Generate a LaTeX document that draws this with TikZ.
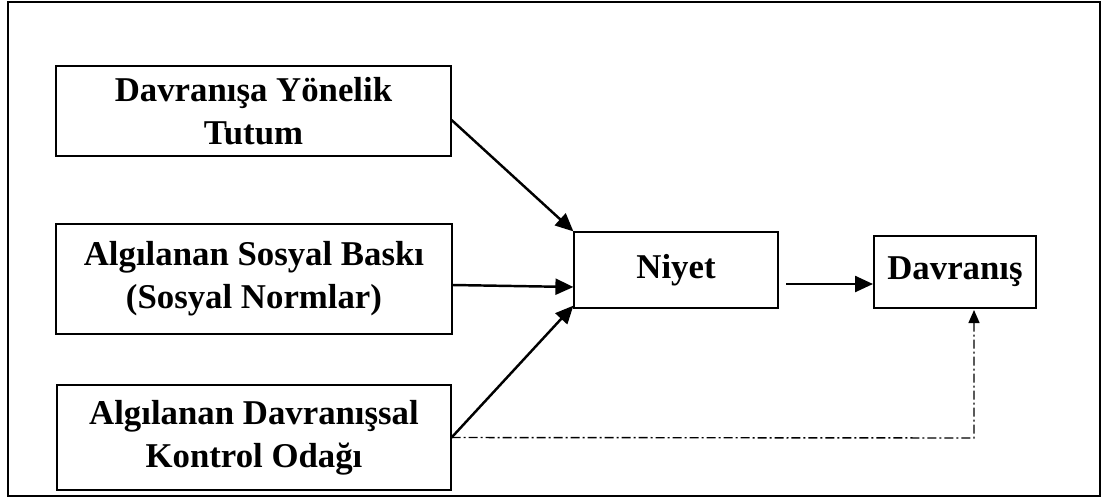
\documentclass[tikz,border=0pt]{standalone}
\usepackage{fontspec}
\setmainfont{Liberation Serif}
\usetikzlibrary{arrows.meta}

\begin{document}
\begin{tikzpicture}[x=0.02cm,y=-0.02cm,
  box/.style={draw,line width=0.7pt,align=center,inner sep=0pt,
    font=\fontsize{19.8}{24.5}\selectfont\bfseries},
  arr/.style={line width=1.4pt,-{Triangle[length=0.36cm,width=0.32cm]}},
  dashdot/.style={line width=0.8pt,dash pattern=on 0.18cm off 0.06cm on 0.04cm off 0.06cm,
    -{Triangle[length=0.26cm,width=0.22cm]}}]
  \useasboundingbox (0,0) rectangle (1105,498);
  \draw[line width=1.4pt] (8,2) rectangle (1100,496);

  \node (T) at (253.5,111) [box,minimum width=7.9cm,minimum height=1.8cm] {Davranışa Yönelik\\Tutum};
  \node (S) at (254,279) [box,minimum width=7.92cm,minimum height=2.2cm] {Algılanan Sosyal Baskı\\(Sosyal Normlar)};
  \node (K) at (254,437.5) [box,minimum width=7.88cm,minimum height=2.1cm] {Algılanan Davranışsal\\Kontrol Odağı};
  \node (N) at (676,270) [box,minimum width=4.08cm,minimum height=1.52cm] {Niyet};
  \node (D) at (955,272) [box,minimum width=3.24cm,minimum height=1.44cm] {Davranış};

  \coordinate (NE) at (786,284);
  \coordinate (DW) at (873,284);
  \coordinate (KB) at (974,438);
  \coordinate (DB) at (974,310);

\draw[arr] ([yshift=-0.18cm]T.east) to (N.north west);
\draw[arr] ([yshift=-0.12cm]S.east) to ([yshift=-0.34cm]N.west);
\draw[arr] (K.east) to ([yshift=0.06cm]N.south west);
\draw[arr] (NE) to (DW);

\draw[dashdot] (K.east) -- (KB) -- (DB);

\end{tikzpicture}
\end{document}
